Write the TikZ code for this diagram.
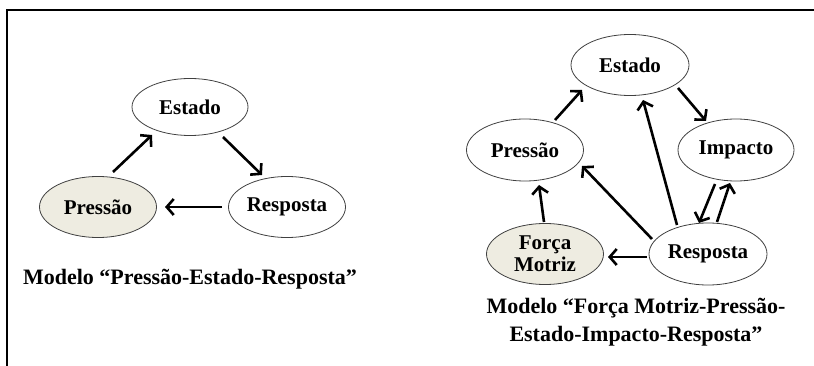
\documentclass[tikz,border=0pt]{standalone}
\usepackage{fontspec}
\setmainfont{Liberation Serif}
\usetikzlibrary{shapes.geometric,arrows.meta}
\definecolor{beige}{HTML}{EEECE1}
\definecolor{rim}{HTML}{404040}
\begin{document}
\begin{tikzpicture}[x=1pt,y=-1pt,
  oval/.style={ellipse, draw=rim, line width=0.8pt, minimum width=117pt,
    minimum height=61pt, inner sep=0pt, align=center,
    font=\fontsize{21}{22}\selectfont\bfseries},
  driver/.style={oval, fill=beige},
  link/.style={line width=2.6pt, -{Straight Barb[length=7pt,width=16pt]}},
  caption/.style={align=center, font=\fontsize{22}{28}\selectfont\bfseries}]
\useasboundingbox (0,0) rectangle (814,366);
% frame
\draw[line width=2.2pt, line join=miter] (814,10) -- (7,10) -- (7,366);

% Pressure-State-Response model
\node[oval, minimum width=116pt, minimum height=57pt] (lE) at (190,107) {Estado};
\node[driver] (lP) at (98,207) {Pressão};
\node[oval] (lR) at (287,207) {Resposta};
\draw[link] ([shift={(15,-35)}]lP.center) -- ([shift={(-38,28)}]lE.center);
\draw[link] ([shift={(33,30)}]lE.center) -- ([shift={(-25,-32)}]lR.center);
\draw[link] ([shift={(-65,0)}]lR.center) -- ([shift={(67,0)}]lP.center);
\node[caption, anchor=base] (lcap) at (190,284) {Modelo “Pressão-Estado-Resposta”};

% DPSIR model
\node[oval, minimum width=118pt] (rE) at (630,65) {Estado};
\node[oval, minimum height=62pt] (rP) at (525,150) {Pressão};
\node[oval, minimum width=116pt, minimum height=62pt] (rI) at (736,150) {Impacto};
\node[driver] (rF) at (545,254) {Força\\Motriz};
\node[oval, minimum width=118pt, minimum height=62pt] (rR) at (708,254) {Resposta};
\draw[link] ([shift={(30,-30)}]rP.center) -- ([shift={(-48,25)}]rE.center);
\draw[link] ([shift={(48,23)}]rE.center) -- ([shift={(-30,-29)}]rI.center);
\draw[link] ([shift={(-31,-29)}]rR.center) -- ([shift={(13,35)}]rE.center);
\draw[link] ([shift={(-56,-15)}]rR.center) -- ([shift={(57,16)}]rP.center);
\draw[link] ([shift={(-61,3)}]rR.center) -- ([shift={(63,3)}]rF.center);
\draw[link] ([shift={(-1,-32)}]rF.center) -- ([shift={(14,35)}]rP.center);
\draw[link] ([shift={(-21,34)}]rI.center) -- ([shift={(-9,-31)}]rR.center);
\draw[link] ([shift={(9,-32)}]rR.center) -- ([shift={(-6,33)}]rI.center);
\node[caption] (rcap) at (636,322) {Modelo “Força Motriz-Pressão-\\Estado-Impacto-Resposta”};
\end{tikzpicture}
\end{document}
